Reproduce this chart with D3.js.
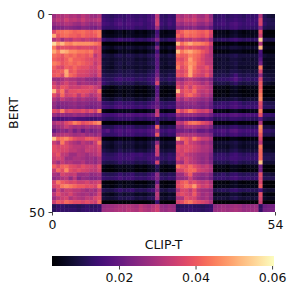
<!DOCTYPE html>
<html>
<head>
<meta charset="utf-8">
<script src="https://cdn.jsdelivr.net/npm/d3@7"></script>
<style>
  html, body { margin: 0; padding: 0; background: #fff; }
  text { font-family: "DejaVu Sans"; fill: #111; }
</style>
</head>
<body>
<div class="graph"></div>
<script>
// cell values x 1000, one line per BERT row, 54 CLIP-T columns
const cells = [
[28,31,30,32,30,31,29,32,30,28,27,30,14,13,12,13,14,13,15,14,13,14,13,15,17,32,13,12,14,13,31,29,32,30,33,29,28,32,26,12,13,14,12,13,14,13,12,14,13,14,30,11,9,8],
[30,33,31,35,32,33,31,34,31,30,31,33,15,14,13,15,16,14,16,15,14,15,14,16,18,34,14,13,15,14,33,31,34,33,35,31,30,33,28,13,14,15,13,14,15,14,13,15,14,15,36,12,11,10],
[27,29,29,31,30,28,27,30,28,26,27,29,16,15,14,16,18,15,17,16,15,16,14,15,17,35,15,13,16,14,29,27,30,29,31,27,26,29,25,14,15,16,14,16,17,15,14,15,15,14,36,13,11,11],
[23,24,24,26,25,24,23,25,24,23,22,25,14,13,13,14,15,14,15,15,13,14,13,15,16,28,13,12,14,13,24,23,25,24,26,23,22,24,20,13,13,14,13,15,16,14,13,14,13,13,24,11,10,10],
[37,42,43,44,43,41,42,43,41,40,42,44,5,4,4,5,6,4,6,6,4,5,4,6,7,15,5,4,5,5,38,41,44,43,43,41,40,42,37,4,5,5,4,6,7,5,4,5,5,5,38,4,3,3],
[50,39,42,43,41,41,39,42,40,39,40,44,6,5,5,6,7,5,7,6,5,6,5,7,9,17,5,5,6,6,42,38,43,41,42,40,38,41,35,5,6,6,5,7,8,6,5,6,5,6,34,4,4,4],
[31,34,28,33,31,35,34,32,34,32,31,34,14,12,12,13,15,13,14,14,12,13,12,14,16,24,12,11,13,13,33,29,33,31,34,32,30,33,26,11,12,13,12,14,15,13,12,13,12,13,55,11,10,10],
[56,48,52,46,45,48,47,47,47,46,44,42,3,2,2,3,3,3,4,4,3,3,3,4,5,13,3,2,3,3,52,43,47,50,46,46,44,42,36,3,3,3,3,4,5,3,3,3,3,3,30,3,3,2],
[44,36,38,38,37,38,36,37,37,36,35,38,8,7,6,8,9,7,9,8,7,8,7,9,10,24,7,6,8,7,38,35,39,37,38,36,34,36,31,6,7,8,7,9,9,8,7,8,7,8,52,6,5,5],
[50,44,52,50,46,46,44,44,43,44,38,38,5,4,3,4,6,5,6,5,4,5,4,6,7,15,4,3,5,4,53,44,48,50,46,44,40,37,32,3,4,4,4,5,5,5,4,4,4,4,16,3,3,3],
[43,41,39,43,41,43,40,41,39,41,32,37,10,9,8,10,11,9,11,10,9,10,9,11,12,20,9,8,10,9,43,40,41,45,43,41,37,33,31,8,9,9,9,10,11,9,9,9,9,9,15,8,7,7],
[41,39,38,41,45,41,41,40,38,37,35,37,8,8,7,8,9,8,9,9,7,8,7,9,10,18,7,7,8,8,39,37,41,49,43,40,36,33,32,7,7,8,7,9,9,8,7,8,7,8,18,6,6,6],
[45,43,39,41,43,41,43,41,39,38,33,37,9,8,7,9,10,8,10,9,8,9,8,10,11,19,8,7,9,8,42,39,43,47,45,39,37,33,32,7,8,8,8,9,10,8,8,8,8,8,22,7,6,6],
[41,37,36,41,39,42,39,38,38,35,34,39,8,7,6,8,9,7,8,8,7,8,7,8,9,18,7,6,7,7,45,37,41,49,43,37,36,39,34,6,7,8,7,8,9,7,7,7,7,7,44,6,5,6],
[39,40,41,50,39,41,37,37,36,34,33,37,9,8,8,9,10,9,10,10,8,9,8,10,11,20,8,8,9,9,38,36,39,49,41,38,35,37,33,8,9,9,8,10,10,9,8,9,8,9,36,7,7,7],
[40,41,37,49,42,40,36,36,35,33,31,37,11,10,10,11,12,10,11,11,10,11,10,12,13,22,10,9,11,10,39,37,41,49,39,36,34,39,33,10,10,11,10,12,15,11,10,11,10,10,26,9,8,8],
[28,27,29,32,30,30,28,29,26,26,24,28,13,12,12,14,15,13,14,14,12,13,12,14,15,28,12,11,13,12,28,26,30,32,30,28,26,28,24,12,13,13,13,15,18,14,12,13,12,13,36,10,10,9],
[34,30,33,36,32,33,28,30,29,28,27,31,14,12,10,11,12,10,11,11,9,10,10,12,14,36,9,8,10,9,34,31,35,36,34,32,29,32,27,9,10,10,9,11,13,10,9,10,9,10,40,8,7,6],
[38,34,39,38,34,35,34,36,36,37,34,32,6,5,4,5,7,5,6,6,4,5,4,6,8,18,5,4,5,5,38,33,39,34,40,36,34,33,30,4,5,5,4,6,7,5,4,5,5,5,40,3,3,3],
[52,38,44,34,38,38,39,38,38,36,34,42,4,3,3,4,5,4,5,5,3,4,3,5,6,18,4,3,4,4,52,37,40,38,42,34,32,34,30,3,4,4,3,5,6,4,3,4,4,4,42,3,2,3],
[38,33,42,35,36,38,32,37,34,30,32,36,5,4,4,5,6,4,6,5,4,5,4,5,7,19,4,4,5,4,38,34,40,42,38,34,30,32,28,4,4,5,4,6,6,5,4,4,4,5,44,3,3,3],
[31,28,33,30,29,31,28,30,28,27,27,34,9,8,7,9,10,8,9,9,7,8,7,9,11,22,8,7,8,8,32,28,33,30,30,28,26,28,24,7,8,8,8,9,10,8,7,8,8,8,46,6,6,5],
[27,24,25,25,26,27,25,26,25,24,24,26,14,13,12,14,15,13,14,14,12,13,12,14,16,20,13,12,13,13,26,24,26,26,27,24,23,25,21,12,13,14,13,15,16,14,12,13,13,13,38,11,10,10],
[26,22,24,24,25,26,24,25,23,22,23,25,16,15,14,16,17,15,16,15,14,15,14,16,18,22,14,13,15,14,25,23,25,24,25,24,22,24,20,14,15,15,14,16,17,15,14,15,14,15,36,12,12,11],
[38,36,45,36,38,36,36,38,35,38,34,44,5,4,4,5,6,5,6,6,4,5,4,6,7,32,5,4,5,5,42,36,40,44,40,36,34,36,30,4,5,5,4,6,7,5,4,5,5,5,44,4,3,3],
[28,25,27,26,26,28,26,27,25,25,23,24,16,15,15,16,18,16,18,17,16,17,16,18,20,34,15,14,16,16,28,25,27,27,27,25,24,25,22,16,16,17,16,18,19,17,16,17,16,16,38,14,14,13],
[18,16,16,17,18,17,16,16,15,14,14,16,13,12,12,13,14,13,14,14,12,13,12,14,15,14,12,11,13,12,20,18,19,18,18,16,15,17,15,11,12,13,12,14,14,13,12,13,12,12,18,11,10,10],
[30,33,32,37,40,45,42,38,40,41,44,47,3,3,2,3,4,3,4,4,3,3,3,4,5,14,3,3,3,3,34,32,38,43,44,42,38,36,32,3,3,3,3,4,5,3,3,3,3,3,30,3,2,2],
[26,28,30,34,31,29,30,28,30,28,28,30,12,11,11,13,14,12,14,13,11,12,11,13,15,42,11,10,12,11,27,25,30,30,30,28,26,28,24,11,12,12,11,13,14,12,11,12,11,12,46,9,9,8],
[20,24,26,24,28,22,26,20,25,22,24,26,16,18,14,16,17,15,17,16,15,16,15,17,19,28,15,14,16,15,22,22,24,22,24,20,20,22,19,15,16,17,15,18,19,16,15,16,15,16,44,13,13,12],
[28,30,31,32,30,28,29,30,27,28,26,29,14,13,13,14,16,14,15,15,13,14,13,15,17,40,13,12,14,13,28,30,30,30,30,27,26,27,24,13,14,15,13,15,16,14,13,14,13,14,40,11,11,10],
[53,42,44,46,42,38,36,36,40,40,38,36,4,3,3,4,5,4,5,5,3,4,3,5,6,9,4,3,4,4,52,42,40,36,44,38,34,34,30,3,4,4,3,5,5,4,3,4,4,4,36,3,3,3],
[34,30,44,36,32,30,28,32,30,29,34,44,9,8,7,9,10,8,9,9,7,8,7,9,11,26,8,7,8,8,32,30,40,34,33,30,27,29,26,7,8,8,8,9,10,8,7,8,8,8,32,6,6,6],
[38,36,37,37,34,32,32,31,33,34,33,37,8,7,6,8,9,7,8,8,6,7,6,8,10,36,7,6,7,7,38,36,37,37,35,33,30,31,28,6,7,7,6,8,9,7,6,7,7,7,44,5,5,5],
[38,37,36,36,33,33,31,30,34,33,32,36,10,9,8,9,11,9,10,10,8,9,8,10,12,34,9,8,9,9,37,35,38,36,34,32,30,30,27,8,9,9,8,10,11,9,8,9,8,9,42,7,7,6],
[36,39,33,32,28,28,31,30,28,30,31,34,13,12,12,13,15,13,14,15,14,15,13,14,15,34,12,11,13,12,34,36,33,31,30,28,27,28,24,12,13,13,12,14,15,13,12,13,12,13,42,10,10,10],
[34,36,34,28,28,30,30,29,27,28,26,30,14,13,13,14,15,14,15,15,13,14,13,15,16,18,13,12,14,13,36,32,36,33,30,28,26,28,23,13,14,14,13,15,15,14,13,14,13,14,42,11,11,10],
[32,28,33,30,31,29,29,31,27,28,26,30,11,10,10,11,13,11,12,12,10,11,10,12,14,36,10,9,11,10,30,28,36,32,31,28,26,28,24,10,11,11,10,12,13,11,10,11,10,11,53,8,8,8],
[41,37,41,42,38,37,35,38,36,35,33,38,5,4,4,5,6,5,6,6,4,5,4,6,7,12,5,4,5,5,44,40,38,42,38,35,32,34,30,4,5,5,4,6,6,5,4,5,5,5,22,4,3,3],
[34,42,38,46,38,36,38,36,35,33,32,36,4,3,3,4,5,4,5,5,3,4,3,5,6,10,4,3,4,4,36,36,40,42,42,36,34,33,30,3,4,4,3,5,5,4,3,4,4,4,22,3,3,3],
[30,28,36,34,33,34,28,28,29,26,27,29,12,11,11,12,14,12,13,14,11,12,11,13,15,26,11,10,12,11,28,28,34,40,30,28,26,28,24,11,12,13,11,13,14,12,11,12,11,12,38,9,9,8],
[26,28,30,32,26,32,24,27,26,24,24,26,14,13,13,14,16,14,15,15,13,14,13,15,17,24,13,12,14,13,26,26,28,34,28,25,24,26,22,13,14,14,13,15,16,14,13,14,13,14,36,11,11,11],
[36,44,40,38,36,37,34,34,36,33,34,36,4,3,3,4,5,4,5,5,3,4,3,5,6,20,4,3,4,4,36,40,42,36,38,34,32,34,30,3,4,4,3,5,6,4,3,4,4,4,36,3,3,3],
[36,38,44,46,44,42,40,40,38,38,36,44,5,5,4,5,7,5,6,6,5,6,5,7,8,30,5,4,5,5,38,40,44,42,48,38,34,36,32,4,5,5,5,6,7,5,5,5,5,5,40,4,3,3],
[26,36,30,34,34,32,32,30,28,30,28,34,11,10,10,12,14,12,13,14,11,12,11,13,15,26,10,9,11,11,30,36,36,32,38,30,28,28,26,10,11,12,11,13,14,12,11,12,11,11,16,9,8,8],
[32,38,34,33,36,32,30,29,30,28,30,36,7,6,5,7,9,7,8,8,6,7,6,8,9,32,6,5,7,6,36,38,36,34,40,32,28,30,27,5,6,6,6,8,8,7,5,6,6,6,38,5,4,4],
[28,32,34,36,30,33,31,30,33,32,36,38,9,8,8,9,11,10,11,11,9,10,9,11,12,30,8,7,9,8,30,30,38,36,36,30,28,30,26,8,9,9,8,10,11,9,8,9,8,9,36,7,6,6],
[34,40,38,42,40,38,38,36,38,36,34,42,3,3,2,3,4,3,4,4,3,3,3,4,5,14,3,2,3,3,36,38,42,44,40,38,36,34,30,3,3,3,3,4,4,3,3,3,3,3,34,3,2,2],
[11,13,13,12,12,12,11,12,13,12,12,13,27,28,28,29,30,30,31,30,29,32,30,29,31,34,27,26,28,27,11,12,12,13,12,12,11,12,13,26,27,28,27,28,29,28,26,27,27,28,12,21,22,22],
[12,14,13,13,13,13,12,13,14,13,13,14,28,29,29,30,31,30,32,31,30,33,31,30,32,35,28,27,29,28,12,13,13,14,13,13,12,13,14,27,28,29,28,29,30,29,27,28,28,29,13,22,23,23]
];

const cols = d3.range(54);
const rows = d3.range(50);
const xTicks = [0, 54];
const yTicks = [0, 50];
const barTicks = [0.02, 0.04, 0.06];
const vmin = 0.0025;
const vmax = 0.0605;

let svg = d3.select(".graph")
    .append("svg")
    .attr("width", 297)
    .attr("height", 297)
    .style("display", "block");

let x = d3.scaleLinear().domain([0, 54]).range([52, 275]);
let y = d3.scaleLinear().domain([0, 50]).range([14, 212]);
let color = d3.scaleSequential(d3.interpolateMagma).domain([vmin, vmax]);
let bar = d3.scaleLinear().domain([vmin, vmax]).range([52, 274]);

// heatmap
let cell = svg.append("g")
    .selectAll("g")
    .data(rows)
    .enter().append("g");

cell.selectAll("rect")
    .data(function(r) { return cols.map(function(c) { return {r: r, c: c, v: cells[r][c] / 1000}; }); })
    .enter().append("rect")
    .attr("x", function(d) { return x(d.c); })
    .attr("y", function(d) { return y(d.r); })
    .attr("width", function(d) { return x(d.c + 1) - x(d.c) + (d.c < 53 ? 0.4 : 0); })
    .attr("height", function(d) { return y(d.r + 1) - y(d.r) + (d.r < 49 ? 0.4 : 0); })
    .attr("fill", function(d) { return color(d.v); });

let xAxis = svg.append("g")
    .attr("transform", "translate(0,212)")
    .call(d3.axisBottom(x).tickValues(xTicks).tickSize(3.5).tickPadding(4.5).tickFormat(d3.format("d")));
let yAxis = svg.append("g")
    .attr("transform", "translate(52,0)")
    .call(d3.axisLeft(y).tickValues(yTicks).tickSize(3.5).tickPadding(3.5).tickFormat(d3.format("d")));

svg.append("text")
    .attr("x", 163.5)
    .attr("y", 249)
    .attr("text-anchor", "middle")
    .attr("font-size", "12.5px")
    .text("CLIP-T");

svg.append("text")
    .attr("transform", "translate(18,113) rotate(-90)")
    .attr("text-anchor", "middle")
    .attr("font-size", "12.5px")
    .text("BERT");

// colorbar
let grad = svg.append("defs").append("linearGradient").attr("id", "bar-grad");
grad.selectAll("stop")
    .data(d3.range(0, 1.001, 0.02))
    .enter().append("stop")
    .attr("offset", function(d) { return d; })
    .attr("stop-color", function(d) { return d3.interpolateMagma(d); });

svg.append("rect")
    .attr("x", 52)
    .attr("y", 256)
    .attr("width", 222)
    .attr("height", 10)
    .attr("fill", "url(#bar-grad)");

let barAxis = svg.append("g")
    .attr("transform", "translate(0,266)")
    .call(d3.axisBottom(bar).tickValues(barTicks).tickSize(3.5).tickPadding(3.5).tickFormat(d3.format(".2f")));
barAxis.select(".domain").remove();

[xAxis, yAxis, barAxis].forEach(function(a) {
    a.attr("font-family", "DejaVu Sans").attr("font-size", "12.5px");
    a.selectAll("text").attr("fill", "#111");
    a.selectAll("line").attr("stroke", "#111").attr("stroke-width", 0.8);
});
xAxis.select(".domain").remove();
yAxis.select(".domain").remove();
</script>
</body>
</html>
